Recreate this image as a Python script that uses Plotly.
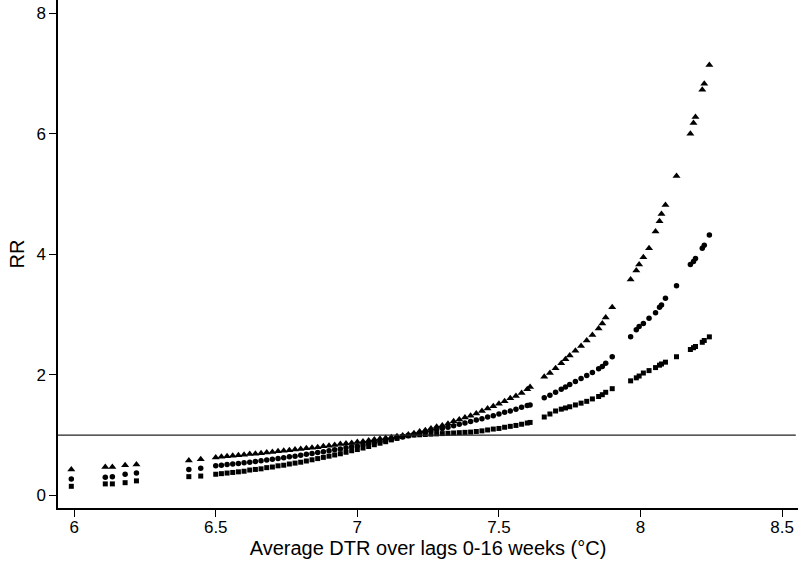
import plotly.graph_objects as go

# average DTR (x) shared by all three series
dtr = [5.99, 6.11, 6.135, 6.18, 6.22, 6.405, 6.447,
       6.50, 6.52, 6.54, 6.56, 6.58, 6.60, 6.62, 6.64, 6.66, 6.68,
       6.70, 6.72, 6.74, 6.76, 6.78, 6.80, 6.82, 6.84, 6.86, 6.88,
       6.90, 6.92, 6.94, 6.96, 6.98, 7.00, 7.02, 7.04, 7.06, 7.08,
       7.10, 7.12, 7.14, 7.16, 7.18, 7.20, 7.22, 7.24, 7.26, 7.28,
       7.30, 7.32, 7.34, 7.36, 7.38, 7.40, 7.42, 7.44, 7.46, 7.48,
       7.50, 7.52, 7.54, 7.56, 7.58, 7.60, 7.61,
       7.66, 7.68, 7.70, 7.72, 7.735, 7.75, 7.77, 7.79, 7.81, 7.83,
       7.852, 7.865, 7.877, 7.90,
       7.965, 7.985, 7.995, 8.01, 8.03, 8.053, 8.067, 8.074, 8.088,
       8.127, 8.176, 8.187, 8.194, 8.218, 8.225, 8.243]

# upper 95% CI (triangles)
rr_upper = [0.43, 0.47, 0.47, 0.50, 0.51, 0.58, 0.60,
            0.63, 0.64, 0.65, 0.655, 0.665, 0.675, 0.685, 0.69, 0.70, 0.71,
            0.72, 0.73, 0.74, 0.75, 0.76, 0.77, 0.78, 0.79, 0.80, 0.815,
            0.825, 0.835, 0.85, 0.86, 0.87, 0.885, 0.895, 0.91, 0.925, 0.94,
            0.95, 0.965, 0.98, 0.995, 1.01, 1.03, 1.06, 1.08, 1.11, 1.14,
            1.16, 1.19, 1.23, 1.26, 1.29, 1.32, 1.36, 1.40, 1.44, 1.48,
            1.52, 1.56, 1.61, 1.65, 1.70, 1.76, 1.80,
            1.97, 2.03, 2.11, 2.19, 2.26, 2.32, 2.40, 2.48, 2.57, 2.66,
            2.77, 2.85, 2.95, 3.12,
            3.58, 3.73, 3.83, 3.95, 4.10, 4.38, 4.55, 4.67, 4.82,
            5.30, 6.00, 6.18, 6.28, 6.73, 6.83, 7.14]

# relative risk (circles)
rr = [0.27, 0.30, 0.31, 0.35, 0.37, 0.43, 0.45,
      0.49, 0.50, 0.51, 0.52, 0.53, 0.54, 0.55, 0.56, 0.575, 0.585,
      0.60, 0.61, 0.625, 0.64, 0.65, 0.665, 0.68, 0.695, 0.71, 0.725,
      0.74, 0.755, 0.77, 0.79, 0.805, 0.82, 0.84, 0.855, 0.875, 0.89,
      0.91, 0.93, 0.95, 0.97, 0.99, 1.01, 1.03, 1.05, 1.07, 1.09,
      1.11, 1.13, 1.155, 1.18, 1.20, 1.225, 1.25, 1.27, 1.30, 1.32,
      1.35, 1.38, 1.40, 1.43, 1.46, 1.49, 1.50,
      1.62, 1.66, 1.71, 1.76, 1.80, 1.84, 1.89, 1.94, 1.99, 2.04,
      2.10, 2.14, 2.19, 2.30,
      2.63, 2.75, 2.80, 2.85, 2.94, 3.03, 3.12, 3.16, 3.27,
      3.48, 3.83, 3.88, 3.93, 4.10, 4.15, 4.32]

# lower 95% CI (squares)
rr_lower = [0.15, 0.19, 0.19, 0.21, 0.24, 0.31, 0.32,
            0.35, 0.36, 0.37, 0.38, 0.39, 0.40, 0.42, 0.43, 0.44, 0.46,
            0.47, 0.49, 0.50, 0.52, 0.535, 0.55, 0.57, 0.59, 0.61, 0.63,
            0.65, 0.67, 0.69, 0.715, 0.74, 0.76, 0.785, 0.81, 0.84, 0.865,
            0.89, 0.92, 0.945, 0.975, 0.99, 1.0, 1.005, 1.01, 1.015, 1.02,
            1.025, 1.03, 1.035, 1.04, 1.045, 1.05, 1.06, 1.07, 1.085, 1.10,
            1.11, 1.13, 1.145, 1.16, 1.18, 1.20, 1.21,
            1.30, 1.35, 1.40, 1.43, 1.45, 1.47, 1.50, 1.53, 1.56, 1.60,
            1.64, 1.67, 1.71, 1.77,
            1.90, 1.95, 1.98, 2.03, 2.07, 2.12, 2.16, 2.18, 2.21,
            2.30, 2.42, 2.45, 2.47, 2.54, 2.57, 2.63]

x_ticks = [6, 6.5, 7, 7.5, 8, 8.5]
y_ticks = [0, 2, 4, 6, 8]

fig = go.Figure()
fig.add_trace(go.Scatter(x=dtr, y=rr_upper, mode="markers", name="upper",
                         marker=dict(symbol="triangle-up", size=7, color="black")))
fig.add_trace(go.Scatter(x=dtr, y=rr, mode="markers", name="RR",
                         marker=dict(symbol="circle", size=5.5, color="black")))
fig.add_trace(go.Scatter(x=dtr, y=rr_lower, mode="markers", name="lower",
                         marker=dict(symbol="square", size=5, color="black")))

# reference line RR = 1
fig.add_shape(type="line", xref="paper", yref="y", x0=0, x1=0.997, y0=1, y1=1,
              line=dict(color="#222222", width=1.2))

fig.update_layout(
    width=799, height=574,
    margin=dict(l=58, r=1, t=0, b=66),
    paper_bgcolor="white", plot_bgcolor="white",
    showlegend=False,
    font=dict(family="Liberation Sans, Arial, sans-serif", size=17, color="black"),
    xaxis=dict(range=[5.943, 8.556], tickvals=x_ticks, ticktext=[str(t) for t in x_ticks],
               automargin=False,
               showgrid=False, zeroline=False, showline=True, linecolor="black", linewidth=1.5,
               ticks="outside", ticklen=7, tickwidth=1.3, tickcolor="black",
               ticklabelstandoff=-4,
               title=dict(text="Average DTR over lags 0-16 weeks (°C)", standoff=2)),
    yaxis=dict(range=[-0.21, 8.22], tickvals=y_ticks, automargin=False,
               showgrid=False, zeroline=False, showline=True, linecolor="black", linewidth=1.5,
               ticks="outside", ticklen=7, tickwidth=1.3, tickcolor="black",
               title=dict(text="RR", standoff=6)),
)

# page body has a default 8px margin; remove it so the figure sits at the corner
fig.write_html("out.html", config={"displayModeBar": False},
               post_script="document.body.style.margin='0px';")
